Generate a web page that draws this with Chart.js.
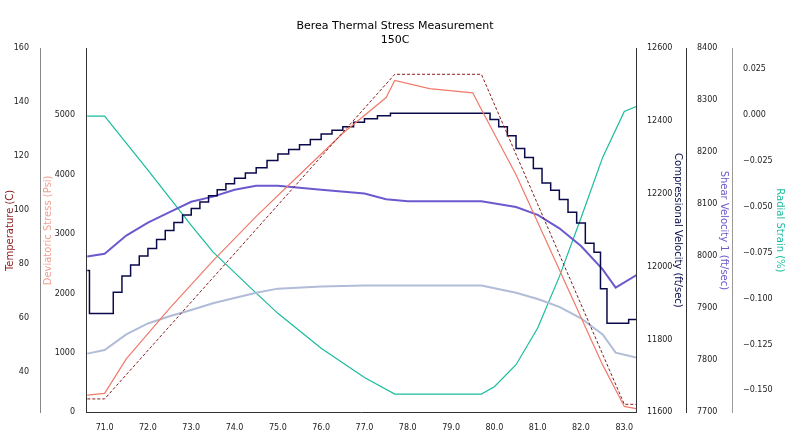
<!DOCTYPE html><html><head><script src="https://cdn.jsdelivr.net/npm/chart.js@4"></script>
<style>body{margin:0;background:#fff}#w{width:790px;height:436px}</style></head><body><div id="w"><canvas id="c"></canvas></div>
<script>
const tempX=[70.6,71.0,77.7,79.7,83.0,83.3];
const tempY=[30,30,150.4,150.4,28,28];
const stressX=[70.6,71.0,71.5,72.5,73.5,74.5,75.5,76.5,77.5,77.7,78.5,79.5,79.7,80.5,81.5,82.5,83.0,83.3];
const stressY=[290,320,900,1750,2550,3300,4000,4700,5300,5590,5450,5380,5100,4000,2400,800,100,60];
const compX=[70.6,70.65,71.0,71.2,71.4,71.6,71.8,72.0,72.2,72.4,72.6,72.8,73.0,73.2,73.4,73.6,73.8,74.0,74.25,74.5,74.75,75.0,75.25,75.5,75.75,76.0,76.25,76.5,76.75,77.0,77.3,77.6,79.7,79.9,80.1,80.3,80.5,80.7,80.9,81.1,81.3,81.5,81.7,81.9,82.1,82.3,82.45,82.6,83.0,83.1,83.3];
const compY=[11990,11872,11872,11930,11975,12005,12030,12050,12075,12100,12122,12142,12160,12178,12195,12212,12228,12243,12258,12272,12292,12310,12322,12335,12350,12365,12375,12385,12397,12407,12415,12422,12422,12405,12385,12360,12325,12300,12270,12230,12210,12185,12150,12120,12065,12040,11940,11845,11845,11855,11855];
const sh1X=[70.6,71.0,71.5,72.0,72.5,73.0,73.5,74.0,74.5,75.0,76.0,77.0,77.5,78.0,79.0,79.7,80.5,81.0,81.5,82.0,82.5,82.8,83.3];
const sh1Y=[8000,8005,8040,8065,8085,8105,8115,8128,8136,8136,8128,8121,8110,8106,8106,8106,8095,8080,8054,8020,7975,7940,7965];
const sh2X=[70.6,71.0,71.5,72.0,72.5,73.0,73.5,74.0,74.5,75.0,76.0,77.0,78.0,79.0,79.7,80.5,81.0,81.5,82.0,82.5,82.8,83.3];
const sh2Y=[7813,7820,7850,7871,7885,7897,7910,7920,7930,7938,7942,7944,7944,7944,7944,7930,7918,7903,7881,7850,7815,7805];
const radX=[70.6,71.0,72.0,73.0,73.5,74.5,75.0,76.0,77.0,77.7,79.7,80.0,80.5,81.0,81.5,82.0,82.5,83.0,83.3];
const radY=[-0.0005,-0.0005,-0.030,-0.060,-0.0745,-0.097,-0.108,-0.127,-0.143,-0.152,-0.152,-0.148,-0.136,-0.116,-0.088,-0.056,-0.023,0.002,0.005];
const xTicks=[71,72,73,74,75,76,77,78,79,80,81,82,83];
const pts=(xs,ys)=>xs.map((x,i)=>({x,y:ys[i]}));
const tk={font:{size:8,family:'DejaVu Sans'},color:'#222',callback:v=>String(v)};
const ttl=(t,c)=>({display:true,text:t,color:c,font:{size:10,family:'DejaVu Sans'},padding:2});
const fit=w=>function(s){s.width=w;};
const setT=arr=>function(a){a.ticks=arr.map(v=>({value:v}));};
new Chart(document.getElementById('c'),{type:'line',
data:{datasets:[
{label:'Temperature',data:pts(tempX,tempY),yAxisID:'yT',borderColor:'#8b1a1a',borderDash:[3,2],borderWidth:1},
{label:'Stress',data:pts(stressX,stressY),yAxisID:'yS',borderColor:'#f07a6a',borderWidth:1.2},
{label:'Comp',data:pts(compX,compY),yAxisID:'yC',borderColor:'#0a0a4a',borderWidth:1.5,stepped:true},
{label:'Shear1',data:pts(sh1X,sh1Y),yAxisID:'yV',borderColor:'#6a5acd',borderWidth:2},
{label:'Shear2',data:pts(sh2X,sh2Y),yAxisID:'yV',borderColor:'#b0bcd8',borderWidth:2},
{label:'Radial',data:pts(radX,radY),yAxisID:'yR',borderColor:'#1abc9c',borderWidth:1.2}
]},
options:{animation:false,responsive:true,maintainAspectRatio:false,
elements:{point:{radius:0}},
layout:{padding:{top:20,left:2,right:2,bottom:0}},
plugins:{legend:{display:false},title:{display:true,text:['Berea Thermal Stress Measurement','150C'],color:'#000',font:{size:11,weight:'normal',family:'DejaVu Sans'},padding:{top:0,bottom:2}}},
scales:{
x:{type:'linear',min:70.57,max:83.27,grid:{display:false},border:{color:'#333'},ticks:{...tk,callback:v=>Number(v).toFixed(1)},afterBuildTicks:setT(xTicks)},
yS:{position:'left',min:0,max:6128,grid:{display:false},border:{color:'#333'},ticks:tk,title:ttl('Deviatoric Stress (Psi)','#f0a090'),afterFit:fit(46),afterBuildTicks:setT([0,1000,2000,3000,4000,5000])},
yT:{position:'left',min:25,max:160,grid:{display:false},border:{color:'#888'},ticks:tk,title:ttl('Temperature (C)','#8b1a1a'),afterFit:fit(38),afterBuildTicks:setT([40,60,80,100,120,140,160])},
yC:{position:'right',min:11600,max:12600,grid:{display:false},border:{color:'#333'},ticks:tk,title:ttl('Compressional Velocity (ft/sec)','#0a0a4a'),afterFit:fit(50),afterBuildTicks:setT([11600,11800,12000,12200,12400,12600])},
yV:{position:'right',min:7700,max:8400,grid:{display:false},border:{color:'#333'},ticks:tk,title:ttl('Shear Velocity 1 (ft/sec)','#6a5acd'),afterFit:fit(46),afterBuildTicks:setT([7700,7800,7900,8000,8100,8200,8300,8400])},
yR:{position:'right',min:-0.162,max:0.0364,grid:{display:false},border:{color:'#999'},ticks:{...tk,callback:v=>v.toFixed(3).replace('-','\u2212')},title:ttl('Radial Strain (%)','#1abc9c'),afterFit:fit(56),afterBuildTicks:setT([0.025,0,-0.025,-0.05,-0.075,-0.1,-0.125,-0.15])}
}}});
</script></body></html>
